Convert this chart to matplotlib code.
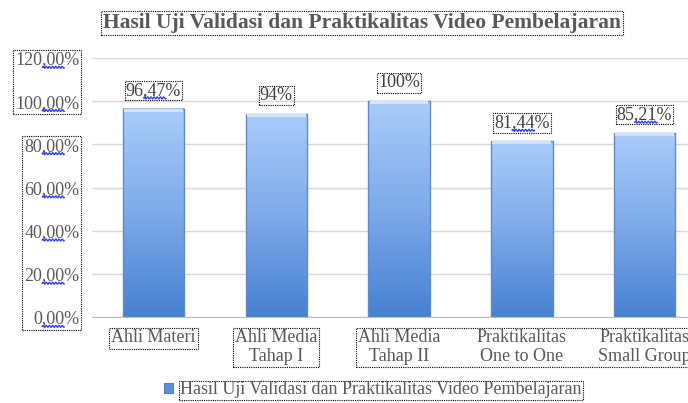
import numpy as np
import matplotlib
matplotlib.use("Agg")
import matplotlib.pyplot as plt
from matplotlib.patches import Rectangle
from matplotlib.lines import Line2D
from matplotlib.colors import LinearSegmentedColormap
from matplotlib.transforms import IdentityTransform, Bbox

# ---------------- data ----------------
categories = ["Ahli Materi", "Ahli Media\nTahap I", "Ahli Media\nTahap II",
              "Praktikalitas\nOne to One", "Praktikalitas\nSmall Group"]
values = [96.47, 94.0, 100.0, 81.44, 85.21]
value_labels = ["96,47%", "94%", "100%", "81,44%", "85,21%"]
yticks = [0, 20, 40, 60, 80, 100, 120]
ytick_labels = ["0,00%", "20,00%", "40,00%", "60,00%", "80,00%", "100,00%", "120,00%"]
title = "Hasil Uji Validasi dan Praktikalitas Video Pembelajaran"
series_name = "Hasil Uji Validasi dan Praktikalitas Video Pembelajaran"

plt.rcParams['font.family'] = ['Liberation Serif', 'DejaVu Serif']

W, H = 688, 403
fig = plt.figure(figsize=(W / 100, H / 100), dpi=100)
ax = fig.add_axes([92 / W, 86 / H, 614 / W, 259 / H])

x = np.arange(len(values))
bw = 0.5
bars = ax.bar(x, values, bw, color='none', edgecolor='none', zorder=3)

cmap = LinearSegmentedColormap.from_list('b', ['#4680d0', '#7eaaea', '#a9ccf9'])
grad = np.linspace(0, 1, 256).reshape(-1, 1)
for b in bars:
    x0, y0, w, h = b.get_x(), b.get_y(), b.get_width(), b.get_height()
    ax.imshow(grad, extent=[x0, x0 + w, y0, y0 + h], origin='lower', cmap=cmap,
              aspect='auto', zorder=3, interpolation='bilinear')
    ax.add_patch(Rectangle((x0, y0), w, h, fill=False, edgecolor='#5f8bc9',
                           lw=1.0, zorder=4))
    ax.add_patch(Rectangle((x0 + 0.01, y0 + h - 1.3), w - 0.02, 1.2,
                           facecolor='#d2e4fc', edgecolor='none', zorder=4))

ax.set_xlim(-0.5, 4.5)
ax.set_ylim(0, 120)
ax.yaxis.grid(True, color='#d9d9d9', lw=1.0)
ax.set_axisbelow(True)
for s in ['top', 'right', 'left']:
    ax.spines[s].set_visible(False)
ax.spines['bottom'].set_color('#bfbfbf')
ax.spines['bottom'].set_zorder(5)

ax.set_yticks(yticks, ytick_labels)
ax.set_xticks(x, categories)
ax.tick_params(axis='y', length=0, pad=9, labelsize=13, labelcolor='#595959')
ax.tick_params(axis='x', length=0, pad=9, labelsize=13, labelcolor='#595959')
for t in ax.get_xticklabels():
    t.set_linespacing(1.1)

dotted = dict(boxstyle='square,pad=0.06', facecolor='none', edgecolor='black',
              linestyle=(0, (1, 1)), linewidth=0.8)

val_texts = []
for xi, v, lab in zip(x, values, value_labels):
    t = ax.annotate(lab, (xi, v), xytext=(0, 7), textcoords='offset points',
                    ha='center', va='bottom', fontsize=13, color='#404040',
                    bbox=dotted, zorder=6)
    val_texts.append(t)

fig.text(362 / W, 1 - 23 / H, title, ha='center', va='center', fontsize=15.5,
         fontweight='bold', color='#595959', bbox=dict(dotted, boxstyle='square,pad=0.08'))

handle = Rectangle((0, 0), 1, 1, facecolor='#5b8fd8', edgecolor='#3c6fb8', lw=0.6)
leg = fig.legend([handle], [series_name], loc='center', bbox_to_anchor=(373 / W, 13 / H),
                 frameon=False, fontsize=13, handlelength=0.5, handleheight=0.5,
                 handletextpad=0.4, labelcolor='#595959', borderpad=0, borderaxespad=0)

fig.canvas.draw()
renderer = fig.canvas.get_renderer()


def box_around(texts, pad=2):
    bbs = [t.get_window_extent(renderer) for t in texts]
    bb = Bbox.union(bbs)
    r = Rectangle((bb.x0 - pad, bb.y0 - pad), bb.width + 2 * pad, bb.height + 2 * pad,
                  fill=False, edgecolor='black', lw=0.8, linestyle=(0, (1, 1)),
                  transform=IdentityTransform())
    fig.add_artist(r)


yl = ax.get_yticklabels()
box_around(yl[5:7])
box_around(yl[0:5])
xl = ax.get_xticklabels()
box_around([xl[0]])
box_around([xl[1]])
box_around(xl[2:5])
box_around(leg.get_texts(), pad=1)


def squiggle(t, s):
    if ',' not in s:
        return
    fp = t.get_fontproperties()
    pre = s.split(',')[0]
    mid = s.rstrip('%')
    wpre, _, _ = renderer.get_text_width_height_descent(pre, fp, ismath=False)
    wmid, _, _ = renderer.get_text_width_height_descent(mid, fp, ismath=False)
    wall, hall, dall = renderer.get_text_width_height_descent(s, fp, ismath=False)
    bb = t.get_window_extent(renderer)
    if t.get_ha() == 'right':
        left = bb.x1 - wall
    else:
        left = bb.x0 + (bb.width - wall) / 2
    xs = np.arange(left + wpre, left + wmid, 0.4)
    base = bb.y0 + dall * 0.4
    ys = base + 1.0 * np.sin(2 * np.pi * (xs - xs[0]) / 3.2)
    fig.add_artist(Line2D(xs, ys, color='#2b3bff', lw=0.9, transform=IdentityTransform()))


for t, s in zip(yl, ytick_labels):
    squiggle(t, s)
for t, s in zip(val_texts, value_labels):
    squiggle(t, s)

fig.savefig('out.png', dpi=100)
